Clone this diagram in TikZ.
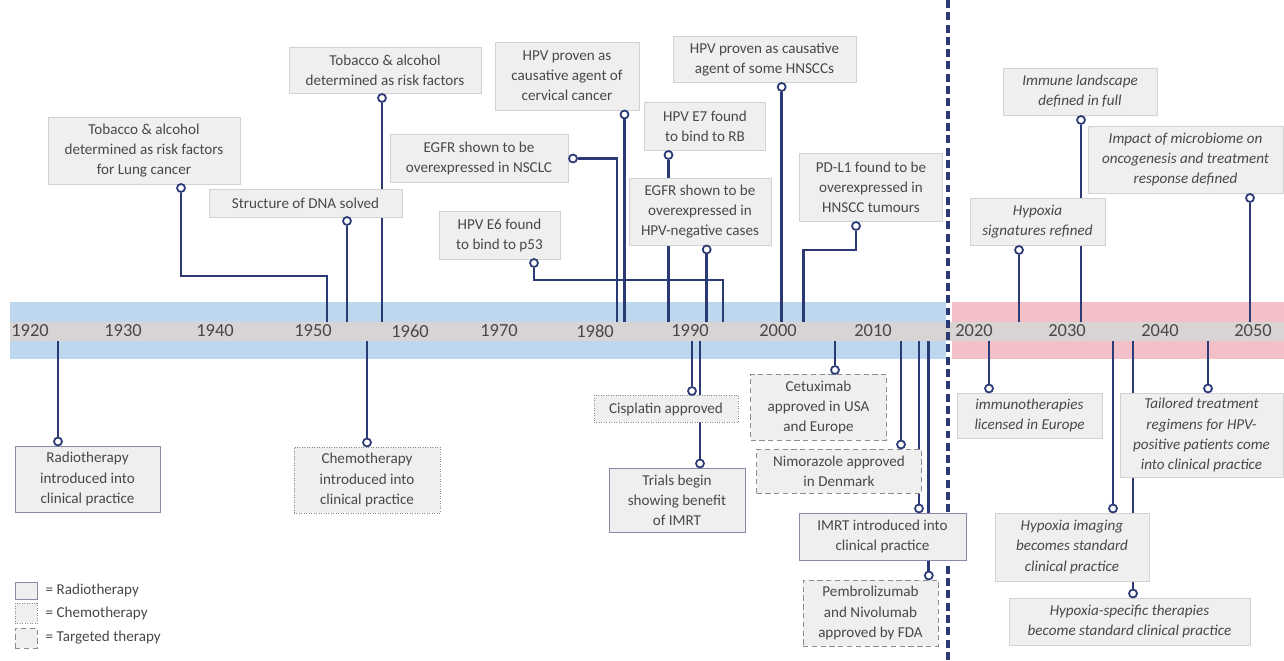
\documentclass[tikz,border=0pt]{standalone}
\usepackage{fontspec}
\setmainfont{Carlito}
\usepackage{xcolor}
\usepackage{tikz}
\usetikzlibrary{arrows.meta, positioning, backgrounds}
\definecolor{navy}{HTML}{2B3A75}
\definecolor{boxfill}{HTML}{EFEFEF}
\definecolor{boxline}{HTML}{D2D2D2}
\definecolor{radioline}{HTML}{8A8AA8}
\definecolor{dashline}{HTML}{8C8C8C}
\definecolor{bandblue}{HTML}{BDD7EE}
\definecolor{bandpink}{HTML}{F3C0CA}
\definecolor{bandgrey}{HTML}{D9D4D4}
\definecolor{textgrey}{HTML}{484848}
\tikzset{
  event/.style={rectangle, draw=boxline, fill=boxfill, text=textgrey,
    font=\fontsize{8.6}{11.4}\selectfont, align=center, inner sep=0.8mm},
  radiobox/.style={event, draw=radioline},
  chemobox/.style={event, draw=dashline, densely dotted},
  targetbox/.style={event, draw=dashline, dash pattern=on 3pt off 2pt},
  futurebox/.style={event, font=\fontsize{8.6}{11.4}\selectfont\itshape},
  ring/.style={circle, draw=navy, fill=white, line width=1pt, inner sep=0pt,
    minimum size=1.6mm},
  connector/.style={line width=1.5pt, color=navy},
  year/.style={font=\fontsize{10.5}{12}\selectfont, text=textgrey},
  legendtext/.style={font=\fontsize{8.6}{11}\selectfont, text=textgrey, inner sep=0pt},
  divider/.style={navy, line width=2pt, dash pattern=on 4.5pt off 2.5pt}
}
\begin{document}
\begin{tikzpicture}[x=0.2mm, y=-0.2mm]
  \useasboundingbox (0,0) rectangle (1284,661);
  \coordinate (haut) at (0,322);
  \coordinate (bas) at (0,340.7);
  \coordinate (k1952) at (327,322);
  \coordinate (k1982) at (617,322);
  \coordinate (k1993) at (723,322);
  \coordinate (k2003) at (803.7,322);
  \coordinate (sepa) at (948,0);
  \coordinate (sepb) at (948,661);

  % years
  \node[year] (y1920) at (30,331) {1920};
  \node[year] (y1930) at (123,331) {1930};
  \node[year] (y1940) at (215,331) {1940};
  \node[year] (y1950) at (313,331) {1950};
  \node[year] (y1960) at (410,331) {1960};
  \node[year] (y1970) at (499,331) {1970};
  \node[year] (y1980) at (595,331) {1980};
  \node[year] (y1990) at (690,331) {1990};
  \node[year] (y2000) at (778,331) {2000};
  \node[year] (y2010) at (873,331) {2010};
  \node[year] (y2020) at (974,331) {2020};
  \node[year] (y2030) at (1067,331) {2030};
  \node[year] (y2040) at (1160,331) {2040};
  \node[year] (y2050) at (1253,331) {2050};

  % above the line
  \node[event, minimum width=38.4mm, minimum height=13.4mm] (lung) at (144,150.5) {Tobacco \& alcohol\\determined as risk factors\\for Lung cancer};
  \node[event, minimum width=38.6mm, minimum height=5.6mm] (dna) at (305.5,203) {Structure of DNA solved};
  \node[event, minimum width=38.4mm, minimum height=9.2mm] (tobacco) at (385,70) {Tobacco \& alcohol\\determined as risk factors};
  \node[event, minimum width=35.6mm, minimum height=9.6mm] (nsclc) at (479,158.5) {EGFR shown to be\\overexpressed in NSCLC};
  \node[event, minimum width=28.8mm, minimum height=13.6mm] (cervical) at (567,76) {HPV proven as\\causative agent of\\cervical cancer};
  \node[event, minimum width=24.2mm, minimum height=9.6mm] (e6) at (499.5,235) {HPV E6 found\\to bind to p53};
  \node[event, minimum width=24.2mm, minimum height=9.6mm] (e7) at (705,126) {HPV E7 found\\to bind to RB};
  \node[event, minimum width=28.4mm, minimum height=13.4mm] (egfrneg) at (700,212) {EGFR shown to be\\overexpressed in\\HPV-negative cases};
  \node[event, minimum width=36.6mm, minimum height=9.2mm] (hnscc) at (764.5,59.5) {HPV proven as causative\\agent of some HNSCCs};
  \node[event, minimum width=28.6mm, minimum height=13.6mm] (pdl1) at (871,187) {PD-L1 found to be\\overexpressed in\\HNSCC tumours};
  \node[futurebox, minimum width=30.8mm, minimum height=9.4mm] (immune) at (1080,91.5) {Immune landscape\\defined in full};
  \node[futurebox, minimum width=27mm, minimum height=9.4mm] (hypsig) at (1037.5,221.5) {Hypoxia\\signatures refined};
  \node[futurebox, minimum width=39mm, minimum height=13.4mm] (microbiome) at (1185.5,159.5) {Impact of microbiome on\\oncogenesis and treatment\\response defined};

  % below the line
  \node[radiobox, minimum width=29mm, minimum height=13.2mm] (radio) at (87.5,479) {Radiotherapy\\introduced into\\clinical practice};
  \node[chemobox, minimum width=29.2mm, minimum height=13.2mm] (chemo) at (367,480) {Chemotherapy\\introduced into\\clinical practice};
  \node[chemobox, minimum width=28.8mm, minimum height=5.4mm] (cisplatin) at (666,409) {Cisplatin approved};
  \node[radiobox, minimum width=27.2mm, minimum height=12.8mm] (trials) at (677,500) {Trials begin\\showing benefit\\of IMRT};
  \node[targetbox, minimum width=27.2mm, minimum height=13.2mm] (cetuximab) at (818.5,407.5) {Cetuximab\\approved in USA\\and Europe};
  \node[targetbox, minimum width=33mm, minimum height=8.8mm] (nimorazole) at (839,471) {Nimorazole approved\\in Denmark};
  \node[radiobox, minimum width=33.4mm, minimum height=9.4mm] (imrt) at (882.5,536.5) {IMRT introduced into\\clinical practice};
  \node[targetbox, minimum width=27mm, minimum height=13.2mm] (pembro) at (870.5,613) {Pembrolizumab\\and Nivolumab\\approved by FDA};
  \node[futurebox, minimum width=29mm, minimum height=9mm] (immuno) at (1029.5,415.5) {immunotherapies\\licensed in Europe};
  \node[futurebox, minimum width=32.6mm, minimum height=16.8mm] (tailored) at (1201.5,435) {Tailored treatment\\regimens for HPV-\\positive patients come\\into clinical practice};
  \node[futurebox, minimum width=30.8mm, minimum height=13.6mm] (hypimg) at (1072,547) {Hypoxia imaging\\becomes standard\\clinical practice};
  \node[futurebox, minimum width=48.2mm, minimum height=9.4mm] (hypther) at (1129.5,621.5) {Hypoxia-specific therapies\\become standard clinical practice};

  % rings
  \node[ring] (rlung) at (181,188) {};
  \node[ring] (rdna) at (347,221) {};
  \node[ring] (rtobacco) at (382,98) {};
  \node[ring] (rnsclc) at (573,158.5) {};
  \node[ring] (rcervical) at (624.5,114.5) {};
  \node[ring] (re6) at (534,263) {};
  \node[ring] (re7) at (668.5,155) {};
  \node[ring] (regfrneg) at (706.7,249.5) {};
  \node[ring] (rhnscc) at (781.7,87) {};
  \node[ring] (rpdl1) at (856,226) {};
  \node[ring] (rimmune) at (1081,120) {};
  \node[ring] (rhypsig) at (1019,250) {};
  \node[ring] (rmicrobiome) at (1250,198) {};
  \node[ring] (rradio) at (58,441.5) {};
  \node[ring] (rchemo) at (367,442.5) {};
  \node[ring] (rcisplatin) at (692,391) {};
  \node[ring] (rtrials) at (700,463.5) {};
  \node[ring] (rcetuximab) at (835,370) {};
  \node[ring] (rnimorazole) at (901,444.5) {};
  \node[ring] (rimrt) at (919,508.5) {};
  \node[ring] (rpembro) at (928.8,575.5) {};
  \node[ring] (rimmuno) at (989,388.5) {};
  \node[ring] (rtailored) at (1208,388.5) {};
  \node[ring] (rhypimg) at (1113,508.5) {};
  \node[ring] (rhypther) at (1133,593.5) {};

  % legend
  \node[radiobox, minimum width=4.4mm, minimum height=3.4mm, inner sep=0pt] (legradio) at (26,590.5) {};
  \node[chemobox, minimum width=4.4mm, minimum height=4mm, inner sep=0pt] (legchemo) at (26,613.5) {};
  \node[targetbox, minimum width=4.4mm, minimum height=4mm, inner sep=0pt] (legtarget) at (26,638) {};
  \node[legendtext, right=1.6mm of legradio] (txtradio) {= Radiotherapy};
  \node[legendtext, right=1.6mm of legchemo] (txtchemo) {= Chemotherapy};
  \node[legendtext, right=1.6mm of legtarget] (txttarget) {= Targeted therapy};

  \begin{scope}[on background layer]
    \fill[bandblue] (10,302) rectangle (946,359);
    \fill[bandpink] (952,302) rectangle (1284,359);
    \fill[bandgrey] (10,322) rectangle (1284,340.7);
    \draw[divider] (sepa) -- (sepb);

    \draw[connector] (rlung) -- ++(0,88) -| (k1952);
    \draw[connector] (rdna) -- (rdna |- haut);
    \draw[connector] (rtobacco) -- (rtobacco |- haut);
    \draw[connector] (rnsclc) -| (k1982);
    \draw[connector] (rcervical) -- (rcervical |- haut);
    \draw[connector] (re6) -- ++(0,17) -| (k1993);
    \draw[connector] (re7) -- (re7 |- haut);
    \draw[connector] (regfrneg) -- (regfrneg |- haut);
    \draw[connector] (rhnscc) -- (rhnscc |- haut);
    \draw[connector] (rpdl1) -- ++(0,24) -| (k2003);
    \draw[connector] (rimmune) -- (rimmune |- haut);
    \draw[connector] (rhypsig) -- (rhypsig |- haut);
    \draw[connector] (rmicrobiome) -- (rmicrobiome |- haut);

    \draw[connector] (bas -| rradio) -- (rradio);
    \draw[connector] (bas -| rchemo) -- (rchemo);
    \draw[connector] (bas -| rcisplatin) -- (rcisplatin);
    \draw[connector] (bas -| rtrials) -- (rtrials);
    \draw[connector] (bas -| rcetuximab) -- (rcetuximab);
    \draw[connector] (bas -| rnimorazole) -- (rnimorazole);
    \draw[connector] (bas -| rimrt) -- (rimrt);
    \draw[connector] (bas -| rpembro) -- (rpembro);
    \draw[connector] (bas -| rimmuno) -- (rimmuno);
    \draw[connector] (bas -| rtailored) -- (rtailored);
    \draw[connector] (bas -| rhypimg) -- (rhypimg);
    \draw[connector] (bas -| rhypther) -- (rhypther);
  \end{scope}
\end{tikzpicture}
\end{document}
